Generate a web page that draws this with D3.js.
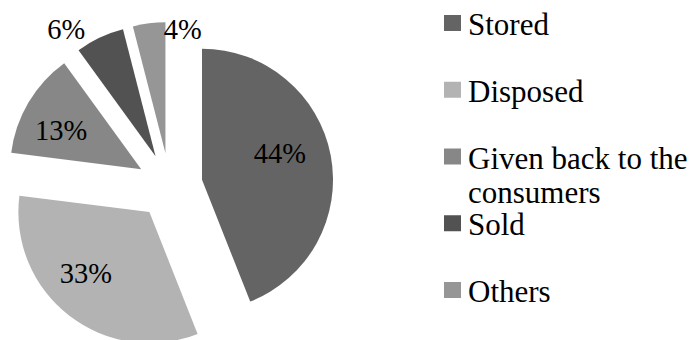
<!DOCTYPE html>
<html>
<head>
<meta charset="utf-8">
<script src="https://cdn.jsdelivr.net/npm/d3@7"></script>
<style>
  html, body { margin: 0; padding: 0; background: #fff; }
  svg { display: block; }
</style>
</head>
<body>
<div id="chart"></div>
<script>
const categories = ['Stored', 'Disposed', 'Given back to the consumers', 'Sold', 'Others'];
const shares = [44, 33, 13, 6, 4];
const legendLines = [['Stored'], ['Disposed'], ['Given back to the', 'consumers'], ['Sold'], ['Others']];
const fills = ['#646464', '#b3b3b3', '#878787', '#525252', '#969696'];

const width = 690;
const height = 340;
const center = { x: 169.6, y: 186 };
const radius = 131;
const explode = 33;
const serif = "'Liberation Serif', 'Times New Roman', Times, 'DejaVu Serif', serif";

// label placement, relative to each slice's own apex: angle offset (deg) and radius
const labelPlace = [
  { dAngle: -7.6, r: 82 },
  { dAngle: 8.3, r: 88 },
  { dAngle: -4.6, r: 89 },
  { dAngle: -10, r: 155 },
  { dAngle: 15.2, r: 125 }
];

const svg = d3.select('#chart').append('svg')
  .attr('width', width)
  .attr('height', height)
  .attr('font-family', serif);

const pie = d3.pie().sort(null).value(d => d);
const arcs = pie(shares);
const arc = d3.arc().innerRadius(0).outerRadius(radius);

const polar = (angle, r) => [r * Math.sin(angle), -r * Math.cos(angle)];

const slices = svg.append('g')
  .attr('transform', `translate(${center.x},${center.y})`)
  .selectAll('g.slice')
  .data(arcs)
  .join('g')
  .attr('class', 'slice')
  .attr('transform', d => {
    const [dx, dy] = polar((d.startAngle + d.endAngle) / 2, explode);
    return `translate(${dx},${dy})`;
  });

slices.append('path')
  .attr('d', arc)
  .attr('fill', (_, i) => fills[i]);

slices.append('text')
  .attr('text-anchor', 'middle')
  .attr('dominant-baseline', 'central')
  .attr('font-family', serif)
  .attr('font-size', 28.5)
  .attr('fill', '#000')
  .attr('transform', (d, i) => {
    const mid = (d.startAngle + d.endAngle) / 2 + labelPlace[i].dAngle * Math.PI / 180;
    const [x, y] = polar(mid, labelPlace[i].r);
    return `translate(${x},${y})`;
  })
  .text(d => `${d.data}%`);

// legend
const legendY = d3.scaleLinear().domain([0, categories.length - 1]).range([23, 290]);
const legend = svg.append('g')
  .selectAll('g.item')
  .data(categories)
  .join('g')
  .attr('class', 'item')
  .attr('transform', (_, i) => `translate(444,${legendY(i)})`);

legend.append('rect')
  .attr('x', 0)
  .attr('y', -8)
  .attr('width', 17)
  .attr('height', 16)
  .attr('fill', (_, i) => fills[i]);

legend.append('text')
  .attr('x', 24)
  .attr('y', 12)
  .attr('font-family', serif)
  .attr('font-size', 31)
  .attr('fill', '#000')
  .selectAll('tspan')
  .data((_, i) => legendLines[i])
  .join('tspan')
  .attr('x', 24)
  .attr('dy', (_, j) => j === 0 ? 0 : 34)
  .text(d => d);
</script>
</body>
</html>
